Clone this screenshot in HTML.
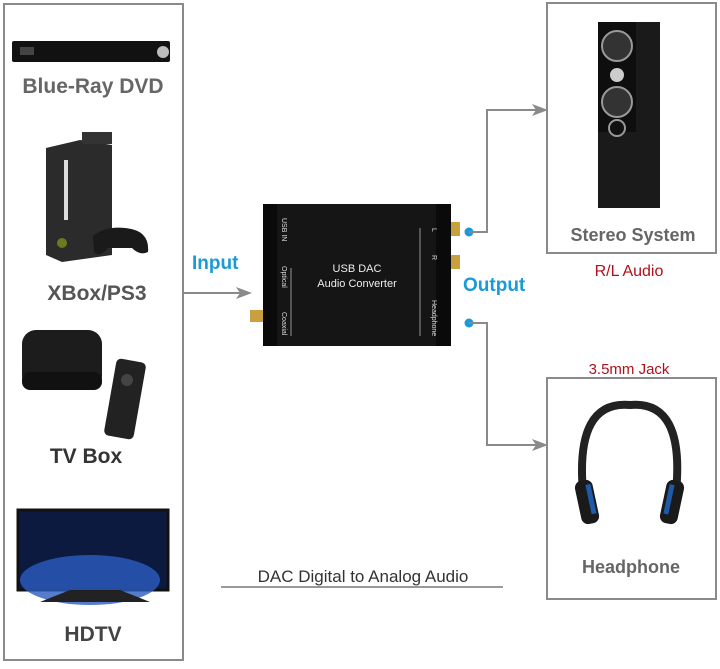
<!DOCTYPE html>
<html><head><meta charset="utf-8"><style>
body{margin:0;background:#fff;width:720px;height:664px;overflow:hidden;font-family:"Liberation Sans",sans-serif}
</style></head><body>
<svg width="720" height="664" viewBox="0 0 720 664" xmlns="http://www.w3.org/2000/svg" font-family="Liberation Sans, sans-serif">
<!-- boxes -->
<rect x="4" y="4" width="179" height="656" fill="#fff" stroke="#8a8a8a" stroke-width="2"/>
<rect x="547" y="3" width="169" height="250" fill="#fff" stroke="#8a8a8a" stroke-width="2"/>
<rect x="547" y="378" width="169" height="221" fill="#fff" stroke="#8a8a8a" stroke-width="2"/>

<!-- DVD -->
<rect x="12" y="41" width="158" height="21" rx="2" fill="#111"/>
<circle cx="163" cy="52" r="6" fill="#bbb"/>
<rect x="20" y="47" width="14" height="8" fill="#444"/>
<text x="93" y="93" text-anchor="middle" font-size="21" font-weight="bold" fill="#666">Blue-Ray DVD</text>

<!-- Xbox -->
<path d="M46 148 L80 140 L112 145 L112 255 L62 262 L46 255 Z" fill="#2b2b2b"/>
<rect x="82" y="132" width="30" height="12" fill="#333"/>
<rect x="64" y="160" width="4" height="60" fill="#ddd"/>
<circle cx="62" cy="243" r="5" fill="#6a7a20"/>
<path d="M93 236 Q105 226 125 228 Q150 230 148 252 Q140 256 132 248 L108 248 Q100 258 94 252 Z" fill="#1a1a1a"/>
<text x="97" y="300" text-anchor="middle" font-size="21" font-weight="bold" fill="#555">XBox/PS3</text>

<!-- TV box -->
<rect x="22" y="330" width="80" height="60" rx="14" fill="#1c1c1c"/>
<rect x="22" y="372" width="80" height="18" rx="8" fill="#111"/>
<rect x="110" y="360" width="30" height="78" rx="5" fill="#222" transform="rotate(10 125 399)"/>
<circle cx="127" cy="380" r="6" fill="#444"/>
<text x="86" y="463" text-anchor="middle" font-size="21" font-weight="bold" fill="#333">TV Box</text>

<!-- HDTV -->
<rect x="18" y="510" width="150" height="80" fill="#0c1a40" stroke="#111" stroke-width="3"/>
<ellipse cx="90" cy="580" rx="70" ry="25" fill="#2c5cc0" opacity="0.8"/>
<path d="M70 590 L40 602 L150 602 L120 590Z" fill="#222"/>
<text x="93" y="641" text-anchor="middle" font-size="21" font-weight="bold" fill="#444">HDTV</text>

<!-- input arrow -->
<line x1="183" y1="293" x2="245" y2="293" stroke="#8a8a8a" stroke-width="2"/>
<path d="M236 287 L252 293 L236 299 L240 293Z" fill="#8a8a8a"/>
<text x="192" y="269" font-size="19" font-weight="bold" fill="#1a9ad8">Input</text>

<!-- device -->
<rect x="263" y="204" width="188" height="142" fill="#151515"/>
<rect x="263" y="204" width="14" height="142" fill="#0a0a0a"/>
<rect x="436" y="204" width="15" height="142" fill="#0a0a0a"/>
<rect x="250" y="310" width="13" height="12" fill="#c8a040"/>
<rect x="451" y="222" width="9" height="14" fill="#c8a040"/>
<rect x="451" y="255" width="9" height="14" fill="#c8a040"/>
<text x="357" y="272" text-anchor="middle" font-size="11" fill="#eee">USB DAC</text>
<text x="357" y="287" text-anchor="middle" font-size="11" fill="#eee">Audio Converter</text>
<g font-size="7" fill="#ddd">
<text transform="translate(282,218) rotate(90)">USB IN</text>
<text transform="translate(282,266) rotate(90)">Optical</text>
<text transform="translate(282,312) rotate(90)">Coaxial</text>
<text transform="translate(432,300) rotate(90)">Headphone</text>
<text transform="translate(432,228) rotate(90)">L</text>
<text transform="translate(432,255) rotate(90)">R</text>
</g>
<line x1="291" y1="268" x2="291" y2="336" stroke="#ccc" stroke-width="0.7"/>
<line x1="420" y1="228" x2="420" y2="336" stroke="#ccc" stroke-width="0.7"/>

<!-- outputs -->
<circle cx="469" cy="232" r="4.5" fill="#1a9ad8"/>
<circle cx="469" cy="323" r="4.5" fill="#1a9ad8"/>
<polyline points="469,232 487,232 487,110 540,110" fill="none" stroke="#8a8a8a" stroke-width="2"/>
<path d="M532 104 L548 110 L532 116 L536 110Z" fill="#8a8a8a"/>
<polyline points="469,323 487,323 487,445 540,445" fill="none" stroke="#8a8a8a" stroke-width="2"/>
<path d="M532 439 L548 445 L532 451 L536 445Z" fill="#8a8a8a"/>
<text x="463" y="291" font-size="19" font-weight="bold" fill="#1a9ad8">Output</text>

<!-- speaker -->
<rect x="598" y="22" width="62" height="186" fill="#1a1a1a"/>
<rect x="598" y="22" width="38" height="110" fill="#0e0e0e"/>
<circle cx="617" cy="46" r="15" fill="#333" stroke="#999" stroke-width="2"/>
<circle cx="617" cy="75" r="7" fill="#ccc"/>
<circle cx="617" cy="102" r="15" fill="#333" stroke="#999" stroke-width="2"/>
<circle cx="617" cy="128" r="8" fill="#111" stroke="#999" stroke-width="2"/>
<text x="633" y="241" text-anchor="middle" font-size="18" font-weight="bold" fill="#666">Stereo System</text>
<text x="629" y="276" text-anchor="middle" font-size="16" fill="#b0101a">R/L Audio</text>

<!-- headphone -->
<text x="629" y="374" text-anchor="middle" font-size="15" fill="#b0101a">3.5mm Jack</text>
<path d="M583 492 Q575 400 630 405 Q685 400 676 492" fill="none" stroke="#222" stroke-width="8"/>
<rect x="578" y="480" width="18" height="44" rx="7" fill="#1a1a1a" transform="rotate(-12 587 502)"/>
<rect x="663" y="480" width="18" height="44" rx="7" fill="#1a1a1a" transform="rotate(12 672 502)"/>
<rect x="589" y="485" width="5" height="30" fill="#1e5aa8" transform="rotate(-12 587 502)"/>
<rect x="666" y="485" width="5" height="30" fill="#1e5aa8" transform="rotate(12 672 502)"/>
<text x="631" y="573" text-anchor="middle" font-size="18" font-weight="bold" fill="#666">Headphone</text>

<!-- caption -->
<text x="363" y="582" text-anchor="middle" font-size="17" fill="#333">DAC Digital to Analog Audio</text>
<line x1="221" y1="587" x2="503" y2="587" stroke="#333" stroke-width="1"/>
</svg>
</body></html>
